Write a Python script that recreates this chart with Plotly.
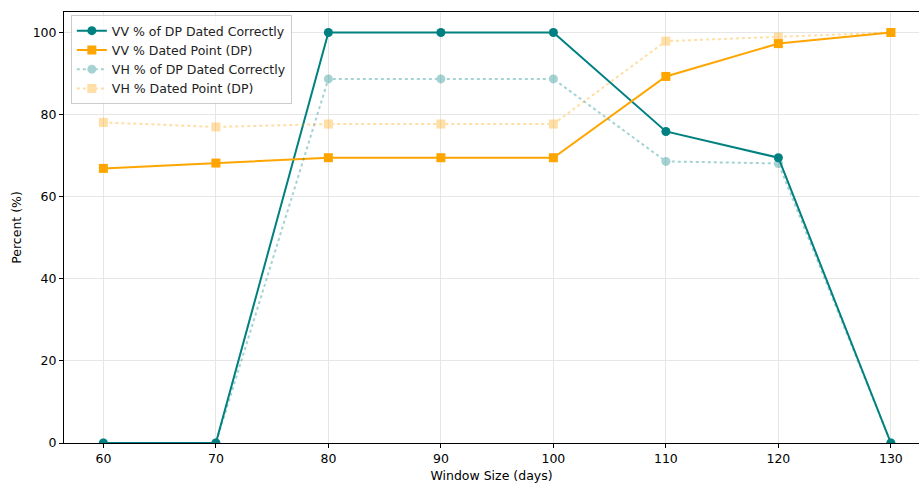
import plotly.graph_objects as go

window_days = [60, 70, 80, 90, 100, 110, 120, 130]
vv_correct = [0, 0, 100, 100, 100, 75.9, 69.5, 0]
vv_dated = [66.9, 68.2, 69.5, 69.5, 69.5, 89.3, 97.3, 100]
vh_correct = [0, 0, 88.7, 88.7, 88.7, 68.6, 68.1, 0]
vh_dated = [78.1, 77.0, 77.7, 77.7, 77.7, 97.9, 98.9, 100]

TEAL = "#008080"
ORANGE = "#FFA500"

fig = go.Figure()
fig.add_trace(go.Scatter(
    x=window_days, y=vv_correct, mode="lines+markers",
    name="VV % of DP Dated Correctly",
    line=dict(color=TEAL, width=2),
    marker=dict(symbol="circle", size=9, color=TEAL),
))
fig.add_trace(go.Scatter(
    x=window_days, y=vv_dated, mode="lines+markers",
    name="VV % Dated Point (DP)",
    line=dict(color=ORANGE, width=2),
    marker=dict(symbol="square", size=9, color=ORANGE),
))
fig.add_trace(go.Scatter(
    x=window_days, y=vh_correct, mode="lines+markers",
    name="VH % of DP Dated Correctly",
    line=dict(color=TEAL, width=2, dash="dot"),
    marker=dict(symbol="circle", size=9, color=TEAL),
    opacity=0.35,
))
fig.add_trace(go.Scatter(
    x=window_days, y=vh_dated, mode="lines+markers",
    name="VH % Dated Point (DP)",
    line=dict(color=ORANGE, width=2, dash="dot"),
    marker=dict(symbol="square", size=9, color=ORANGE),
    opacity=0.35,
))

axis_common = dict(
    showline=True, linecolor="black", linewidth=1,
    ticks="outside", ticklen=4, tickcolor="black",
    showgrid=True, gridcolor="#e6e6e6", gridwidth=1,
    zeroline=False,
    tickfont=dict(family="DejaVu Sans", size=12.5, color="black"),
    title_font=dict(family="DejaVu Sans", size=12.5, color="black"),
)

fig.update_layout(
    width=919, height=483,
    margin=dict(l=64, r=0, t=12, b=40),
    paper_bgcolor="white", plot_bgcolor="white",
    font=dict(family="DejaVu Sans", size=12, color="black"),
    xaxis=dict(axis_common, mirror=True, range=[56.5, 132.5], tickvals=window_days,
               title=dict(text="Window Size (days)", standoff=7)),
    yaxis=dict(axis_common, mirror=False, range=[0, 105],
               tickvals=[0, 20, 40, 60, 80, 100],
               title=dict(text="Percent (%)", standoff=8)),
    legend=dict(
        x=0.008, y=0.993, xanchor="left", yanchor="top",
        bgcolor="rgba(255,255,255,0.8)", bordercolor="#cccccc", borderwidth=1,
        font=dict(family="DejaVu Sans", size=12.5, color="#222"),
        tracegroupgap=0, itemwidth=30,
    ),
    showlegend=True,
)

fig.write_html("out.html")
